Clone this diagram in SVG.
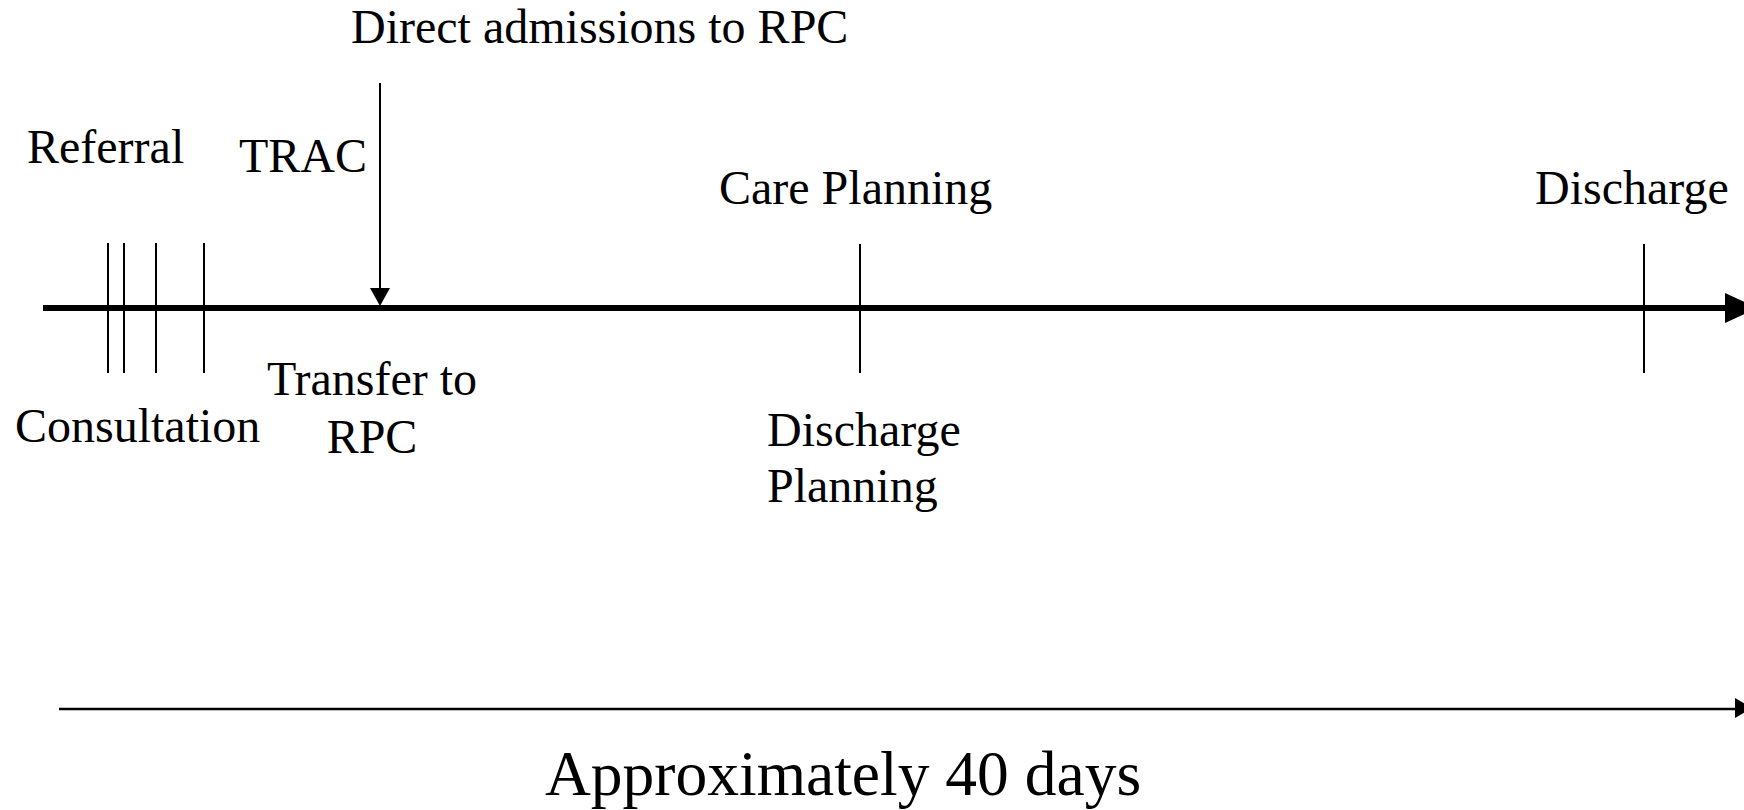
<svg xmlns="http://www.w3.org/2000/svg" width="1744" height="810" viewBox="0 0 1744 810">
<style>
text{font-family:"Liberation Serif","Times New Roman",serif;fill:#000;font-size:48px}
.big{font-size:63.5px}
.tick{stroke:#000;stroke-width:2;fill:none}
</style>
<rect width="1744" height="810" fill="#fff"/>
<g id="connectors">
<line x1="43" y1="308" x2="1727" y2="308" stroke="#000" stroke-width="6"/>
<polygon points="1725,293 1758,308 1725,323" fill="#000"/>
<line x1="380" y1="83" x2="380" y2="289" stroke="#000" stroke-width="2"/>
<polygon points="370,288 390,288 380,306" fill="#000"/>
<line x1="59" y1="709" x2="1737" y2="709" stroke="#000" stroke-width="2.5"/>
<polygon points="1735,698 1752,708 1735,718" fill="#000"/>
</g>
<g id="ticks">
<line class="tick" x1="108" y1="243" x2="108" y2="373"/>
<line class="tick" x1="124" y1="243" x2="124" y2="373"/>
<line class="tick" x1="156" y1="243" x2="156" y2="373"/>
<line class="tick" x1="204" y1="243" x2="204" y2="373"/>
<line class="tick" x1="860" y1="244" x2="860" y2="373"/>
<line class="tick" x1="1644" y1="244" x2="1644" y2="373"/>
</g>
<g id="direct"><text x="351" y="43">Direct admissions to RPC</text></g>
<g id="referral"><text x="27" y="163">Referral</text></g>
<g id="trac"><text x="239" y="172">TRAC</text></g>
<g id="care"><text x="719" y="204">Care Planning</text></g>
<g id="discharge"><text x="1535" y="204">Discharge</text></g>
<g id="consultation"><text x="15" y="442">Consultation</text></g>
<g id="transfer"><text x="372" y="395" text-anchor="middle">Transfer to</text><text x="372" y="453" text-anchor="middle">RPC</text></g>
<g id="dplan"><text x="767" y="446">Discharge</text><text x="767" y="502">Planning</text></g>
<g id="duration"><text class="big" x="545" y="795">Approximately 40 days</text></g>
</svg>
